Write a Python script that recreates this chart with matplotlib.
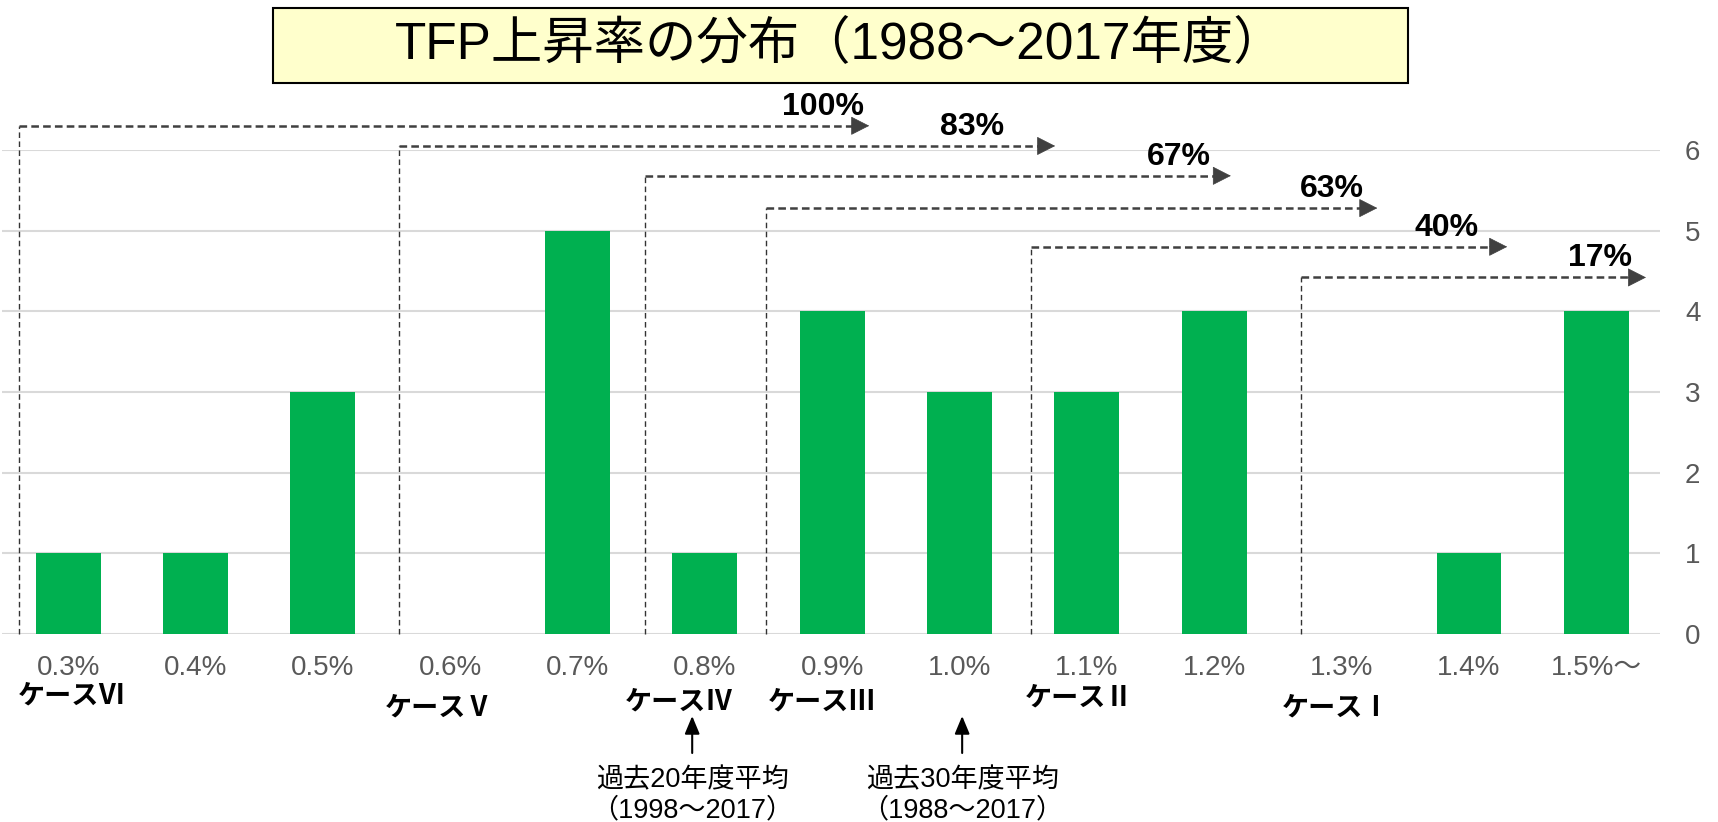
import matplotlib.pyplot as plt
from matplotlib.patches import Rectangle
from matplotlib.transforms import blended_transform_factory

plt.rcParams['font.family'] = ['Liberation Sans', 'Noto Sans CJK JP', 'DejaVu Sans']
plt.rcParams['lines.scale_dashes'] = False

# data
categories = ["0.3%", "0.4%", "0.5%", "0.6%", "0.7%", "0.8%", "0.9%",
              "1.0%", "1.1%", "1.2%", "1.3%", "1.4%", "1.5%～"]
counts = [1, 1, 3, 0, 5, 1, 4, 3, 3, 4, 0, 1, 4]

shares = ["100%", "83%", "67%", "63%", "40%", "17%"]
case_names = ["ケースⅥ", "ケースⅤ", "ケースⅣ", "ケースⅢ", "ケースⅡ", "ケースⅠ"]
avg_notes = ["過去20年度平均\n（1998～2017）", "過去30年度平均\n（1988～2017）"]

# layout of the brackets (x in category units, y in count units)
bracket_start = [-0.39, 2.60, 4.53, 5.48, 7.56, 9.68]
bracket_tip = [6.29, 7.75, 9.13, 10.28, 11.30, 12.39]
bracket_level = [6.30, 6.05, 5.68, 5.28, 4.80, 4.42]
share_x = [5.93, 7.10, 8.72, 9.92, 10.82, 12.03]
case_x = [0.03, 2.91, 4.80, 5.92, 7.94, 9.96]
case_y = [126, 114, 120, 120, 124, 114]      # figure pixels from bottom
avg_x = [4.9, 7.02]

W, H = 1718, 822
fig = plt.figure(figsize=(W / 100, H / 100), dpi=100)
ax = fig.add_axes([2 / W, (H - 634) / H, 1658 / W, 484 / H])

x = range(len(categories))
ax.bar(x, counts, width=0.51, color='#00B050', zorder=2)

ax.set_xlim(-0.52, 12.5)
ax.set_ylim(0, 6)
ax.set_yticks(range(7))
ax.yaxis.tick_right()
ax.tick_params(axis='y', length=0, pad=18, labelsize=20, labelcolor='#595959')
ax.set_xticks(list(x))
ax.set_xticklabels(categories)
ax.tick_params(axis='x', length=0, pad=15, labelsize=20, labelcolor='#595959')
ax.grid(axis='y', color='#D9D9D9', lw=1.5, zorder=0)
for s in ax.spines.values():
    s.set_visible(False)

dark = '#404040'
for i in range(len(shares)):
    x0, x1, y = bracket_start[i], bracket_tip[i], bracket_level[i]
    ax.plot([x0, x0], [0, y], color='#333333', lw=1.0, dashes=(4, 2.5), clip_on=False, zorder=3)
    ax.plot([x0, x1 - 0.1], [y, y], color=dark, lw=1.8, dashes=(5.5, 3), clip_on=False, zorder=3)
    ax.annotate('', xy=(x1, y), xytext=(x1 - 0.14, y),
                arrowprops=dict(arrowstyle='-|>,head_length=0.55,head_width=0.28',
                                color=dark, lw=0.5, shrinkA=0, shrinkB=0,
                                mutation_scale=22),
                annotation_clip=False, zorder=4)
    ax.text(share_x[i], y + 0.05, shares[i], ha='center', va='bottom',
            fontsize=23, fontweight='bold', color='black', clip_on=False)

tr = blended_transform_factory(ax.transData, fig.transFigure)
for i in range(len(case_names)):
    ax.text(case_x[i], case_y[i] / H, case_names[i], transform=tr,
            ha='center', va='center', fontsize=19.5, fontweight='bold',
            family=['Noto Sans CJK JP'])

for i in range(len(avg_notes)):
    ax.annotate('', xy=(avg_x[i], (H - 716) / H), xytext=(avg_x[i], (H - 753) / H),
                xycoords=tr, textcoords=tr,
                arrowprops=dict(arrowstyle='-|>,head_length=0.6,head_width=0.25',
                                color='black', lw=1.5, shrinkA=0, shrinkB=0,
                                mutation_scale=18),
                annotation_clip=False)
    ax.text(avg_x[i], (H - 795) / H, avg_notes[i], transform=tr, ha='center',
            va='center', fontsize=19.5, linespacing=1.2)

# title box
fig.patches.append(Rectangle((273 / W, 1 - 83 / H), 1135 / W, 75 / H,
                             transform=fig.transFigure, facecolor='#FFFFCC',
                             edgecolor='black', lw=1.5))
fig.text(840 / W, 1 - 46 / H, "TFP上昇率の分布（1988～2017年度）",
         ha='center', va='center', fontsize=37)

fig.savefig('out.png', dpi=100)
